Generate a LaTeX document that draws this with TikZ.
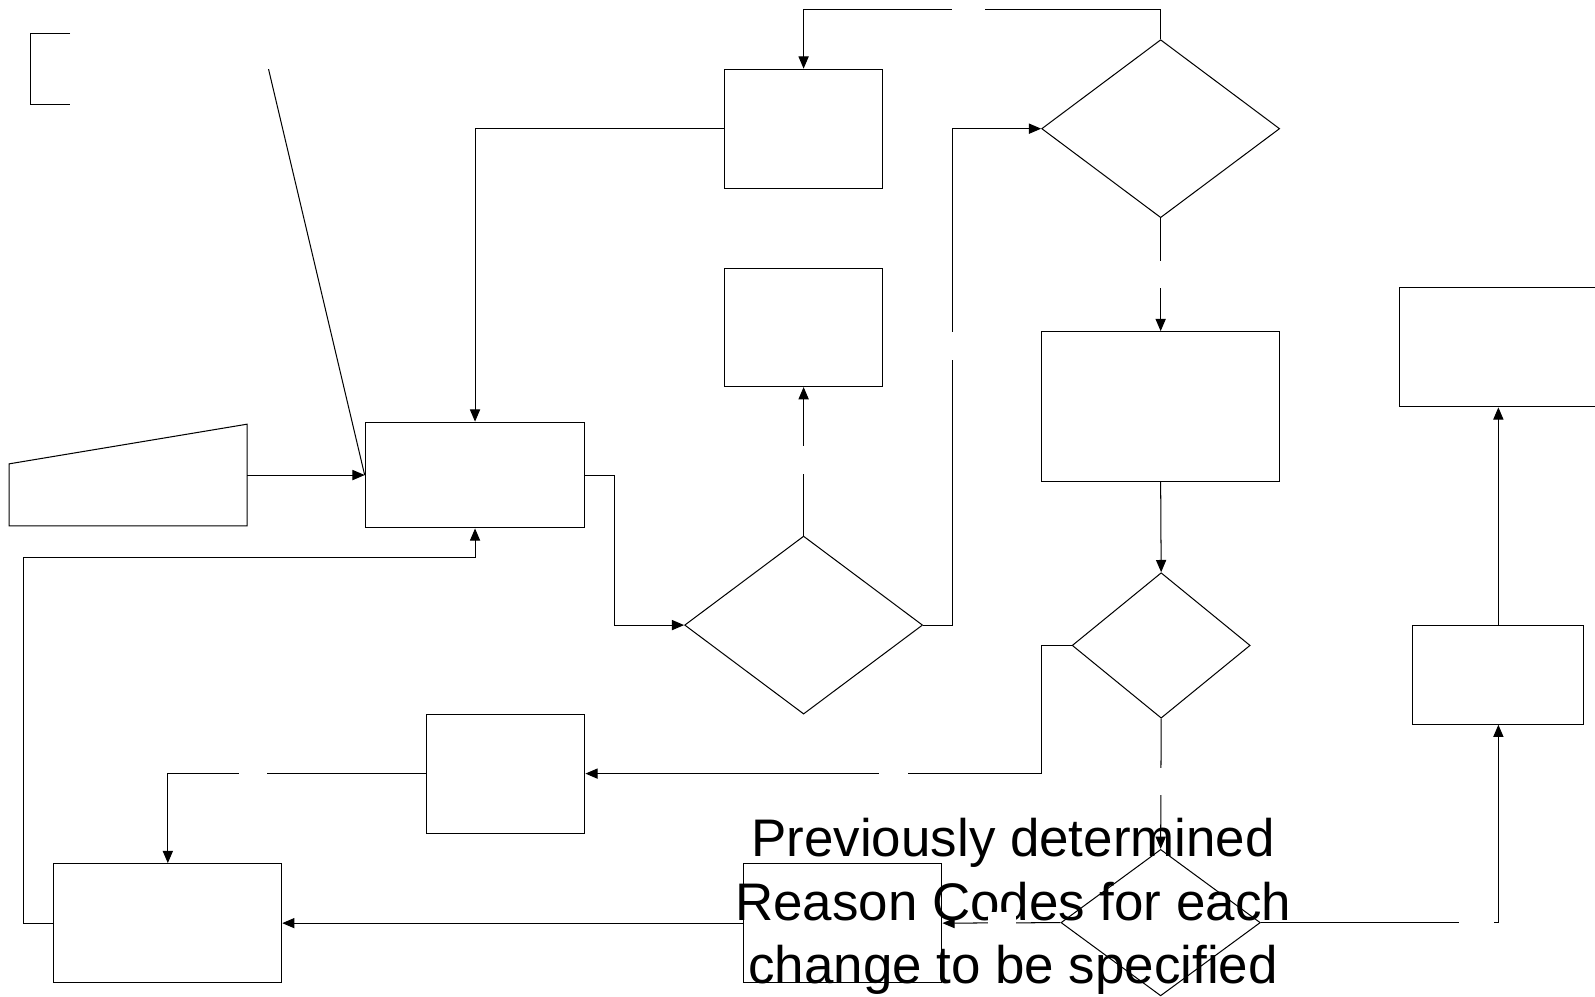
\documentclass[tikz,border=0pt]{standalone}
\usepackage{fontspec}
\setmainfont{Liberation Sans}
\usetikzlibrary{shapes.geometric,arrows.meta,calc}
\begin{document}
\begin{tikzpicture}[x=1pt,y=-1pt,
  box/.style={draw,rectangle,inner sep=0pt,line width=1pt},
  dia/.style={draw,diamond,inner sep=0pt,line width=1pt},
  conn/.style={line width=1pt},
  arr/.style={conn,-{Triangle[length=12pt,width=10pt]}},
  hgap/.style={fill=white,inner sep=0pt,minimum width=28pt,minimum height=20pt},
  vgap/.style={fill=white,inner sep=0pt,minimum width=20pt,minimum height=27pt},
  note/.style={align=center,inner sep=0pt,font=\fontsize{52}{62}\selectfont}
]
\useasboundingbox (0,0) rectangle (1568,980);
\clip (0,0) rectangle (1568,980);

% text (drawn first, lines go over it)
\node[note] (txt) at (996,891) {Previously determined\\Reason Codes for each\\change to be specified};

% annotation bracket and its line
\draw[conn] (69,33) -- (30,33) -- (30,103) -- (69,103);
\coordinate (dl) at (264,68);

% manual input shape
\draw[conn] (9,456) -- (243,417) -- (243,517) -- (9,517) -- cycle;
\coordinate (tr) at (243,467);

% boxes
\node[box,minimum width=216pt,minimum height=104pt] (b1) at (467,467) {};
\node[box,minimum width=156pt,minimum height=117pt] (b2) at (790,126.5) {};
\node[box,minimum width=156pt,minimum height=116pt] (b3) at (790,322) {};
\node[box,minimum width=234pt,minimum height=147pt] (b4) at (1141,399.5) {};
\node[box,minimum width=156pt,minimum height=117pt] (b5) at (497,760.5) {};
\node[box,minimum width=224pt,minimum height=117pt] (b6) at (165,907.5) {};
\node[box,minimum width=195pt,minimum height=117pt] (b7) at (828.5,907.5) {};
\node[box,minimum width=168pt,minimum height=97pt] (b8) at (1473,663.5) {};
\node[box,minimum width=224pt,minimum height=117pt] (b9) at (1488,341.5) {};

% diamonds
\node[dia,minimum width=234pt,minimum height=175pt] (d1) at (790,614.5) {};
\node[dia,minimum width=234pt,minimum height=175pt] (d2) at (1141,126.5) {};
\node[dia,minimum width=175pt,minimum height=143pt] (d3) at (1141.5,634.5) {};
\node[dia,minimum width=196pt,minimum height=144pt] (d4) at (1141,907) {};

% connectors
\draw[arr] (tr) -- (b1.west);
\draw[conn] (dl) -- (b1.west);
\draw[arr] (b2.west) -| (b1.north);
\draw[arr] (b1.east) -- ++(29,0) |- (d1.west);
\draw[arr] (d1.north) -- (b3.south);
\draw[arr] (d1.east) -- ++(29,0) |- (d2.west);
\draw[arr] (d2.north) -- ++(0,-29) -| (b2.north);
\draw[arr] (d2.south) -- (b4.north);
\draw[arr] (b4.south) -- (d3.north);
\draw[arr] (d3.west) -- ++(-30,0) |- (b5.east);
\draw[arr] (b5.west) -| (b6.north);
\draw[arr] (b6.west) -- ++(-29,0) |- ([yshift=-29pt]b1.south) -- (b1.south);
\draw[arr] (d3.south) -- (d4.north);
\draw[arr] (d4.west) -- (b7.east);
\draw[arr] (b7.west) -- (b6.east);
\draw[arr] (d4.east) -| (b8.south);
\draw[arr] (b8.north) -- (b8.north |- b9.south);

% white label gaps
\node[vgap] (g1) at (790,452) {};
\node[vgap] (g2) at (936,340) {};
\node[hgap,minimum width=32pt] (g3) at (952,10) {};
\node[vgap] (g4) at (1141,270) {};
\node[hgap] (g5) at (878.5,761) {};
\node[hgap] (g6) at (248.5,761) {};
\node[vgap] (g7) at (1141,768.5) {};
\node[hgap] (g8) at (985,907) {};
\node[hgap,minimum width=35pt] (g9) at (1451.5,907) {};
\end{tikzpicture}
\end{document}
